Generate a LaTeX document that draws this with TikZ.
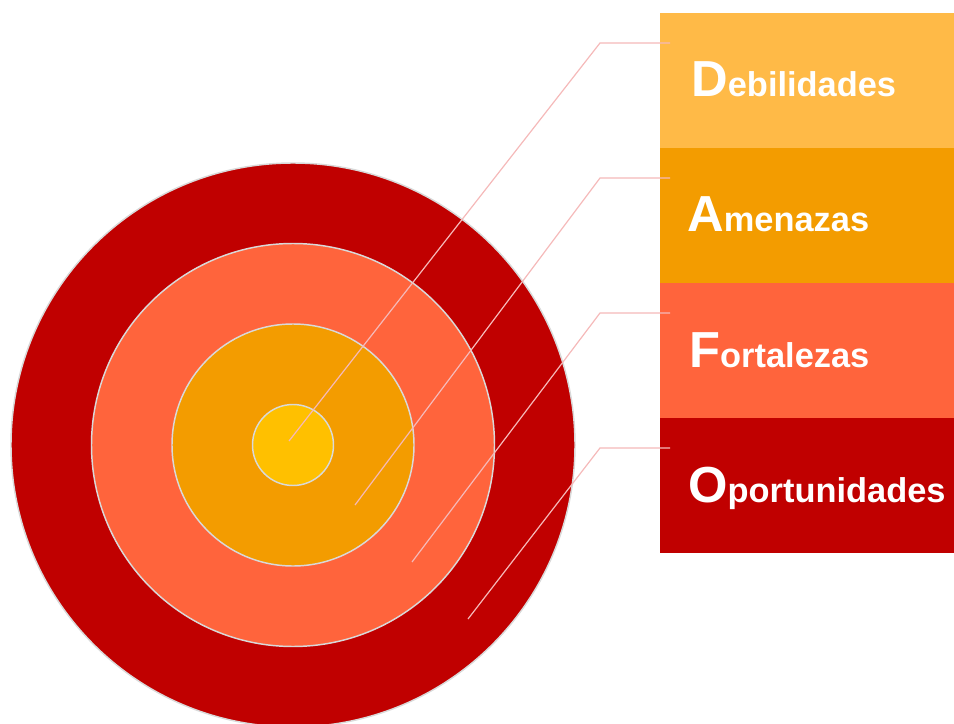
\documentclass[tikz,border=0pt]{standalone}
\usepackage{fontspec}
\setmainfont{Liberation Sans}
\definecolor{cDeb}{HTML}{FFBA47}
\definecolor{cAme}{HTML}{F39C00}
\definecolor{cFor}{HTML}{FF643C}
\definecolor{cOpo}{HTML}{C00000}
\definecolor{cIn}{HTML}{FFC000}
\definecolor{cRim}{HTML}{D9D9D9}
\definecolor{cLead}{HTML}{F5B9B9}
\begin{document}
\begin{tikzpicture}[x=0.75pt,y=-0.75pt,
  ring/.style={circle,draw=cRim,line width=1.1pt,inner sep=0pt},
  panel/.style={rectangle,minimum width=294*0.75pt,minimum height=135*0.75pt,inner sep=0pt,anchor=north west},
  label/.style={anchor=base west,inner sep=0pt,text=white,font=\bfseries\fontsize{25.8}{26}\selectfont},
  leader/.style={draw=cLead,line width=0.9pt}]
\useasboundingbox (0,0) rectangle (954,724);
% target circles
\node[ring,fill=cOpo,minimum size=564*0.75pt] (c4) at (293,445) {};
\node[ring,fill=cFor,minimum size=403*0.75pt] (c3) at (293,445) {};
\node[ring,fill=cAme,minimum size=242*0.75pt] (c2) at (293,445) {};
\node[ring,fill=cIn,minimum size=81*0.75pt] (c1) at (293,445) {};
% panels
\node[panel,fill=cDeb] (p1) at (660,13) {};
\node[panel,fill=cAme] (p2) at (660,148) {};
\node[panel,fill=cFor] (p3) at (660,283) {};
\node[panel,fill=cOpo] (p4) at (660,418) {};
% labels
\node[label] (t1) at (691,97) {{\fontsize{38}{38}\selectfont D}ebilidades};
\node[label] (t2) at (687,231) {{\fontsize{38}{38}\selectfont A}menazas};
\node[label] (t3) at (689,367) {{\fontsize{38}{38}\selectfont F}ortalezas};
\node[label] (t4) at (688,502) {{\fontsize{38}{38}\selectfont O}portunidades};
% leader coordinates
\coordinate (s1) at (670,43);  \coordinate (k1) at (600,43);  \coordinate (e1) at (289,441);
\coordinate (s2) at (670,178); \coordinate (k2) at (600,178); \coordinate (e2) at (355,505);
\coordinate (s3) at (670,313); \coordinate (k3) at (600,313); \coordinate (e3) at (412,562);
\coordinate (s4) at (670,448); \coordinate (k4) at (600,448); \coordinate (e4) at (468,619);
\foreach \i in {1,2,3,4} \draw[leader] (s\i) -- (k\i) -- (e\i);
\end{tikzpicture}
\end{document}
